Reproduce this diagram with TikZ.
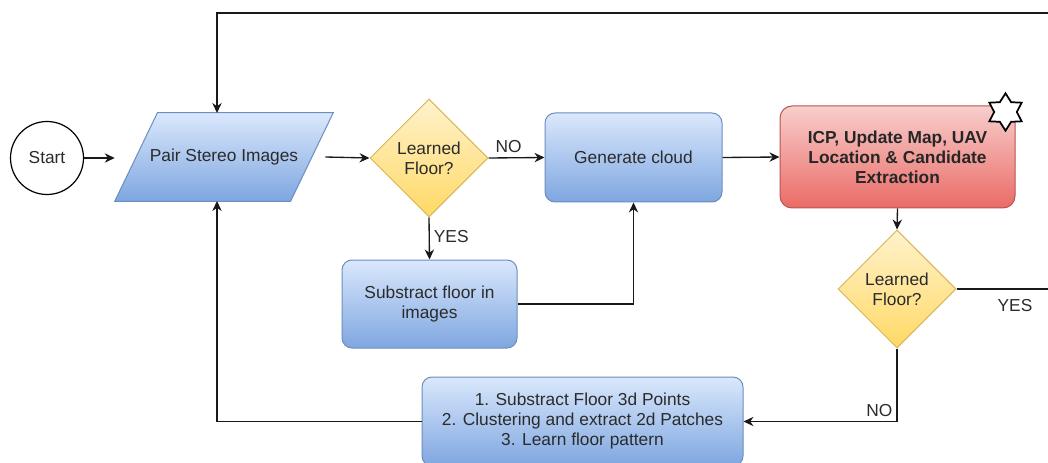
\documentclass[tikz,border=0pt]{standalone}
\usepackage{fontspec}
\setmainfont{Liberation Sans}
\usetikzlibrary{shapes.geometric,arrows.meta}
\definecolor{bluetop}{HTML}{DAE8FC}
\definecolor{bluebot}{HTML}{7EA6E0}
\definecolor{blueline}{HTML}{6C8EBF}
\definecolor{yeltop}{HTML}{FFF2CC}
\definecolor{yelbot}{HTML}{FFD966}
\definecolor{yelline}{HTML}{D6B656}
\definecolor{redtop}{HTML}{F8CECC}
\definecolor{redbot}{HTML}{EA6B66}
\definecolor{redline}{HTML}{B85450}
\definecolor{txt}{HTML}{2B2B2B}
\begin{document}
\begin{tikzpicture}[x=0.75pt,y=-0.75pt,
  every node/.style={font=\fontsize{13}{15}\selectfont, text=txt},
  bluebox/.style={draw=blueline, line width=0.75pt, top color=bluetop, bottom color=bluebot,
    rounded corners=7.5pt, align=center, inner sep=0pt},
  redbox/.style={draw=redline, line width=0.75pt, top color=redtop, bottom color=redbot,
    rounded corners=9pt, align=center, inner sep=0pt, font=\fontsize{13}{15}\selectfont\bfseries, text=black!85},
  decision/.style={diamond, draw=yelline, line width=0.75pt, top color=yeltop, bottom color=yelbot,
    minimum width=88.5pt, minimum height=88.5pt, inner sep=0pt, align=center},
  conn/.style={line width=1pt, draw=black!90},
  arr/.style={conn, -{Stealth[length=7.5pt,width=7pt]}},
  lbl/.style={font=\fontsize{13}{15}\selectfont, text=txt, inner sep=3pt}]
\useasboundingbox (0,0) rectangle (1048,463);
\clip (0,0) rectangle (1048,463);

% nodes
\node[circle, draw=black, line width=0.9pt, fill=white, minimum size=54.75pt, inner sep=0pt] (start) at (47,158) {Start};

\node[minimum width=163.5pt, minimum height=66pt, inner sep=0pt] (pair) at (224,157) {};
\path[draw=blueline, line width=0.75pt, top color=bluetop, bottom color=bluebot]
  (pair.south west) -- ([xshift=32pt]pair.north west) -- (pair.north east)
  -- ([xshift=-32pt]pair.south east) -- cycle;
\node at (pair.center) {Pair Stereo Images};

\node[decision] (d1) at (429,158) {Learned\\Floor?};
\node[bluebox, minimum width=132.75pt, minimum height=66.75pt] (gen) at (633.5,157.5) {Generate cloud};
\node[bluebox, minimum width=131.25pt, minimum height=66pt] (sub) at (429.5,304) {Substract floor in\\images};
\node[redbox, minimum width=176.25pt, minimum height=76.5pt] (icp) at (897.5,157) {ICP, Update Map, UAV\\Location \& Candidate\\Extraction};
\node[star, star points=6, star point ratio=1.65, draw=black, line width=1.3pt, fill=white,
  minimum size=28pt, inner sep=0pt] (star) at (1005.5,112) {};
\node[decision] (d2) at (897,289) {Learned\\Floor?};
\node[bluebox, minimum width=240.75pt, minimum height=66.75pt] (learn) at (582.5,421.5)
  {1. Substract Floor 3d Points\\2. Clustering and extract 2d Patches\\3. Learn floor pattern};

\coordinate (ptop) at (217,113);
\coordinate (pbot) at (217,201);
\coordinate (loop) at (1062,13);

% connectors
\draw[arr] (start.east) -- (start.east -| pair.west);
\draw[arr] ([xshift=-6pt]pair.east) -- (d1.west);
\draw[arr] (d1.east) -- (gen.west) node[lbl, above, pos=0.36] {NO};
\draw[arr] (d1.south) -- (sub.north) node[lbl, right, pos=0.45] {YES};
\draw[arr] (sub.east) -| (gen.south);
\draw[arr] (gen.east) -- (icp.west);
\draw[arr] (icp.south) -- (d2.north);
\draw[arr] (d2.east) -| (loop) -| (ptop);
\node[lbl] (yes2) at (1015,306) {YES};
\draw[arr] (d2.south) |- (learn.east) node[lbl, pos=0.5, anchor=south east] {NO};
\draw[arr] (learn.west) -| (pbot);
\end{tikzpicture}
\end{document}
